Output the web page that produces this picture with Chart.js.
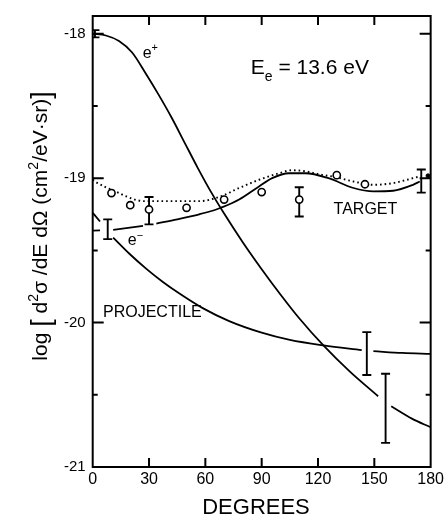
<!DOCTYPE html>
<html>
<head>
<meta charset="utf-8">
<script src="https://cdn.jsdelivr.net/npm/chart.js@4.4.0/dist/chart.umd.min.js"></script>
<style>
  html, body { margin: 0; padding: 0; background: #fff; }
  #wrap { width: 447px; height: 518px; position: relative; }
</style>
</head>
<body>
<div id="wrap"><canvas id="chart"></canvas></div>
<script>
// angle in degrees, value = log10 of d2sigma/dE dOmega (null = gap in the drawn line)
const ePlusX = [0, 7, 14, 21, 28, 35, 42, 49, 56, 63, 70, 80, 90, 100, 110, 123, 137, 152, 155, 159, 170, 180];
const ePlusY = [-18.0, -18.012, -18.05, -18.13, -18.27, -18.42, -18.58, -18.755, -18.93, -19.095, -19.245, -19.445, -19.63, -19.805, -19.97, -20.16, -20.34, -20.51, null, -20.58, -20.665, -20.725];

const projX = [0, 3.9, 7, 10.9, 19.7, 28.6, 37.4, 46.2, 58.6, 72.7, 90, 105, 123, 143.3, 146, 149.5, 165, 180];
const projY = [-19.24, -19.3, null, -19.411, -19.525, -19.628, -19.719, -19.799, -19.9, -19.99, -20.07, -20.12, -20.158, -20.19, null, -20.198, -20.21, -20.217];

const targetX = [0, 3.9, 7, 10.9, 26.8, 30.4, 33.9, 45, 56.8, 64.7, 68.3, 78, 88.6, 95.6, 104.5, 113.3, 125.6, 138.9, 149.5, 160, 170.6, 174.2];
const targetY = [-19.363, -19.362, null, -19.358, -19.331, null, -19.315, -19.285, -19.25, -19.222, -19.205, -19.148, -19.057, -19.0, -18.966, -18.966, -19.0, -19.068, -19.091, -19.087, -19.046, -19.023];

const dottedX = [0, 1.2, 11.8, 22.4, 27.7, 40, 56.8, 67.4, 78, 88.6, 99.2, 106, 113, 122, 128.3, 138.9, 149.5, 160, 170.6, 174.2];
const dottedY = [-19.01, -19.023, -19.09, -19.148, -19.159, -19.159, -19.159, -19.13, -19.068, -19.011, -18.966, -18.945, -18.952, -18.977, -18.99, -19.023, -19.046, -19.034, -19.0, -18.988];

const circleX = [10, 20, 30, 50, 70, 90, 110, 130, 145];
const circleY = [-19.103, -19.187, -19.217, -19.205, -19.148, -19.096, -19.148, -18.979, -19.042];

const dotX = [178.6];
const dotY = [-18.984];

const errX = [1.2, 8, 30, 110, 146, 156, 175];
const errLow = [-18.025, -19.422, -19.32, -19.265, -20.363, -20.833, -19.1];
const errHigh = [-17.975, -19.285, -19.13, -19.063, -20.066, -20.354, -18.94];

const yLabels = [-21, -20, -19, -18];
const yHalf = [-18.5, -19.5, -20.5];
const xMarks = [30, 60, 90, 120, 150];

const FONT = '"Liberation Sans", Arial, sans-serif';

function pts(xs, ys) {
    return xs.map((x, i) => ({ x: x, y: ys[i] }));
}

// draw text made of pieces, mode 1 = superscript, -1 = subscript, 2 = big bracket
function pieceSize(m, size) {
    if (m === 1 || m === -1) return Math.round(size * 0.68);
    if (m === 2) return Math.round(size * 1.3);
    return size;
}
function richWidth(ctx, parts, size) {
    let w = 0;
    parts.forEach(([t, m]) => {
        ctx.font = pieceSize(m, size) + 'px ' + FONT;
        w += ctx.measureText(t).width;
    });
    return w;
}
function rich(ctx, parts, x, y, size) {
    let cx = x;
    parts.forEach(([t, m]) => {
        ctx.font = pieceSize(m, size) + 'px ' + FONT;
        let dy = 0;
        if (m === 1) dy = -size * 0.42;
        if (m === -1) dy = size * 0.3;
        if (m === 2) dy = size * 0.12;
        ctx.fillText(t, cx, y + dy);
        cx += ctx.measureText(t).width;
    });
}

const decor = {
    id: 'decor',
    beforeDatasetsDraw(chart) {
        // error bars go under the open circles
        const { ctx, chartArea: a, scales: { x, y } } = chart;
        ctx.save();
        ctx.beginPath();
        ctx.rect(a.left, a.top, a.right - a.left, a.bottom - a.top);
        ctx.clip();
        ctx.strokeStyle = '#000';
        ctx.lineWidth = 1.9;
        errX.forEach((v, i) => {
            const px = x.getPixelForValue(v);
            const y1 = y.getPixelForValue(errLow[i]);
            const y2 = y.getPixelForValue(errHigh[i]);
            const c = 4.5;
            ctx.beginPath();
            ctx.moveTo(px, y1); ctx.lineTo(px, y2);
            ctx.moveTo(px - c, y1); ctx.lineTo(px + c, y1);
            ctx.moveTo(px - c, y2); ctx.lineTo(px + c, y2);
            ctx.stroke();
        });
        ctx.restore();
    },
    afterDraw(chart) {
        const { ctx, chartArea: a, scales: { x, y } } = chart;
        ctx.save();
        ctx.strokeStyle = '#000';
        ctx.fillStyle = '#000';

        // frame
        ctx.lineWidth = 2;
        ctx.strokeRect(a.left, a.top, a.right - a.left, a.bottom - a.top);

        // inward ticks
        ctx.beginPath();
        yLabels.concat(yHalf).forEach(v => {
            const py = y.getPixelForValue(v);
            const len = Number.isInteger(v) ? 11 : 5;
            ctx.moveTo(a.left, py); ctx.lineTo(a.left + len, py);
            ctx.moveTo(a.right, py); ctx.lineTo(a.right - len, py);
        });
        xMarks.forEach(v => {
            const px = x.getPixelForValue(v);
            ctx.moveTo(px, a.bottom); ctx.lineTo(px, a.bottom - 9);
            ctx.moveTo(px, a.top); ctx.lineTo(px, a.top + 9);
        });
        ctx.stroke();

        // labels inside the plot
        ctx.textBaseline = 'alphabetic';
        ctx.textAlign = 'left';
        const at = (dx, dy) => [x.getPixelForValue(dx), y.getPixelForValue(dy)];

        let p = at(26.6, -18.168);
        rich(ctx, [['e', 0], ['+', 1]], p[0], p[1], 16);

        p = at(84.2, -18.281);
        rich(ctx, [['E', 0], ['e', -1], [' = 13.6 eV', 0]], p[0], p[1], 21);

        p = at(128.3, -19.251);
        ctx.font = '16px ' + FONT;
        ctx.fillText('TARGET', p[0], p[1]);

        p = at(5.5, -19.959);
        ctx.fillText('PROJECTILE', p[0], p[1]);

        p = at(18.7, -19.466);
        rich(ctx, [['e', 0], ['\u2212', 1]], p[0], p[1], 16);

        // axis titles
        ctx.font = '22px ' + FONT;
        ctx.textAlign = 'center';
        ctx.textBaseline = 'middle';
        ctx.fillText('DEGREES', 256, 508);

        const yt = [['log ', 0], ['[', 2], [' d', 0], ['2', 1], ['\u03c3 /dE d\u03a9 (cm', 0], ['2', 1], ['/eV\u00b7sr)', 0], [']', 2]];
        ctx.translate(40, 226);
        ctx.rotate(-Math.PI / 2);
        ctx.textAlign = 'left';
        ctx.textBaseline = 'alphabetic';
        const w = richWidth(ctx, yt, 21);
        rich(ctx, yt, -w / 2, 7, 21);
        ctx.restore();
    }
};

const curve = {
    showLine: true,
    pointRadius: 0,
    borderColor: '#000',
    borderWidth: 1.8,
    cubicInterpolationMode: 'monotone',
    spanGaps: false
};

new Chart(document.getElementById('chart'), {
    type: 'scatter',
    data: {
        datasets: [
            {
                label: 'data',
                data: pts(circleX, circleY),
                pointRadius: 3.6,
                pointBackgroundColor: '#fff',
                pointBorderColor: '#000',
                pointBorderWidth: 1.6
            },
            {
                label: 'dot',
                data: pts(dotX, dotY),
                pointRadius: 2,
                pointBackgroundColor: '#000',
                pointBorderColor: '#000'
            },
            Object.assign({ label: 'e+', data: pts(ePlusX, ePlusY) }, curve),
            Object.assign({ label: 'projectile', data: pts(projX, projY) }, curve),
            Object.assign({ label: 'target', data: pts(targetX, targetY) }, curve),
            Object.assign({ label: 'target dotted', data: pts(dottedX, dottedY) }, curve, {
                borderWidth: 1.9,
                borderDash: [1.6, 3],
                borderCapStyle: 'butt'
            })
        ]
    },
    options: {
        responsive: true,
        maintainAspectRatio: false,
        animation: false,
        events: [],
        layout: { padding: { left: 0, right: 14.3, top: 11, bottom: 0 } },
        plugins: {
            legend: { display: false },
            tooltip: { enabled: false }
        },
        scales: {
            x: {
                type: 'linear',
                min: 0,
                max: 180,
                afterFit: s => { s.height = 51; },
                grid: { display: false, drawTicks: false },
                border: { display: false },
                ticks: {
                    stepSize: 30,
                    padding: 3,
                    color: '#000',
                    font: { family: FONT, size: 16 },
                    maxRotation: 0,
                    autoSkip: false
                }
            },
            y: {
                type: 'linear',
                min: -21,
                max: -17.877,
                afterFit: s => { s.width = 92.7; },
                afterBuildTicks: s => { s.ticks = yLabels.map(v => ({ value: v })); },
                grid: { display: false, drawTicks: false },
                border: { display: false },
                ticks: {
                    padding: 7,
                    color: '#000',
                    font: { family: FONT, size: 15 },
                    callback: v => String(v)
                }
            }
        }
    },
    plugins: [decor]
});
</script>
</body>
</html>
